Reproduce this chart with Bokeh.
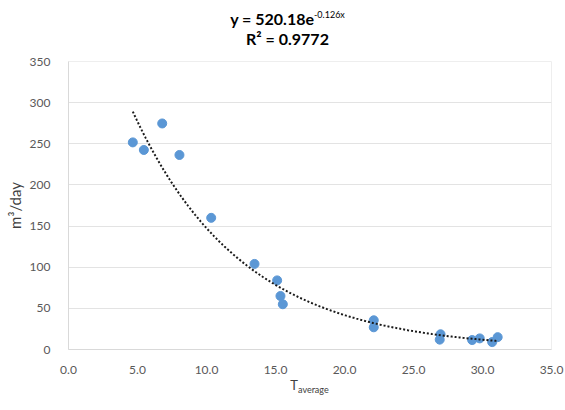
import numpy as np
from bokeh.plotting import figure
from bokeh.models import FixedTicker, NumeralTickFormatter, Range1d, Div
from bokeh.layouts import column
from bokeh.embed import file_html
from bokeh.resources import INLINE

# ---- data ----
t_average = [4.66, 5.46, 6.79, 8.04, 10.34, 13.48, 15.12, 15.36, 15.53,
             22.12, 22.12, 26.96, 26.90, 29.25, 29.80, 30.70, 31.10]
flow_m3_day = [251.7, 242.5, 274.7, 236.4, 160.0, 104.0, 84.0, 65.0, 55.0,
               35.5, 27.0, 18.5, 12.0, 11.5, 13.5, 9.0, 15.0]

fit_a = 520.18
fit_b = -0.126
fit_r2 = 0.9772

x_ticks = [0, 5, 10, 15, 20, 25, 30, 35]
y_ticks = [0, 50, 100, 150, 200, 250, 300, 350]

FONT = "Lato"

# ---- layout ----
W = 565
TITLE_H, FIG_H, XLAB_H = 52, 324, 34
L, R, T, B = 68, 14, 9, 26

title_div = Div(
    text=(f"<div style='width:{W}px;box-sizing:border-box;padding-left:10px;"
          f"text-align:center;line-height:20px;padding-top:9px'>"
          f"y = {fit_a:.2f}e<span style='font-size:9px;font-weight:normal;"
          f"vertical-align:7px;line-height:0'>{fit_b:.3f}x</span><br>"
          f"R² = {fit_r2:.4f}</div>"),
    width=W, height=TITLE_H, margin=(0, 0, 0, 0),
    styles={"font-family": FONT, "font-weight": "bold", "font-size": "16px",
            "color": "#000000", "width": f"{W}px"},
)

p = figure(width=W, height=FIG_H, output_backend="svg", toolbar_location=None,
           x_range=Range1d(0, 35), y_range=Range1d(0, 350),
           min_border_left=L, min_border_right=R, min_border_top=T, min_border_bottom=B,
           margin=(0, 0, 0, 0))
p.background_fill_color = "white"
p.border_fill_color = "white"
p.outline_line_color = "#eeeeee"

# axes
p.xaxis.ticker = FixedTicker(ticks=x_ticks)
p.yaxis.ticker = FixedTicker(ticks=y_ticks)
p.xaxis.formatter = NumeralTickFormatter(format="0.0")
for ax in (p.xaxis, p.yaxis):
    ax.major_tick_line_color = None
    ax.minor_tick_line_color = None
    ax.axis_line_color = "#d9d9d9"
    ax.major_label_text_font = FONT
    ax.major_label_text_font_size = "12px"
    ax.major_label_text_color = "#595959"
p.xaxis.major_label_standoff = 10
p.yaxis.major_label_standoff = 12
p.yaxis.axis_label = "m³/day"
p.yaxis.axis_label_text_font = FONT
p.yaxis.axis_label_text_font_size = "15px"
p.yaxis.axis_label_text_font_style = "normal"
p.yaxis.axis_label_text_color = "#404040"
p.yaxis.axis_label_standoff = 3

p.xgrid.grid_line_color = None
p.ygrid.grid_line_color = "#e3e3e3"
p.ygrid.ticker = FixedTicker(ticks=y_ticks)

# points
p.scatter(t_average, flow_m3_day, size=9, marker="circle",
          fill_color="#5b97d5", line_color="#5b97d5")

# exponential trendline from the fitted coefficients
tx = np.linspace(min(t_average), max(t_average), 200)
ty = fit_a * np.exp(fit_b * tx)
p.line(tx, ty, line_color="#1a1a1a", line_width=2, line_dash="2 2")

xlab_div = Div(
    text=(f"<div style='width:{W}px;box-sizing:border-box;padding-left:54px;"
          "text-align:center;line-height:16px;padding-top:1px'>"
          "T<span style='font-size:9px;vertical-align:-3px;line-height:0'>average</span></div>"),
    width=W, height=XLAB_H, margin=(0, 0, 0, 0),
    styles={"font-family": FONT, "font-size": "13px", "color": "#404040",
            "width": f"{W}px"},
)

layout = column(title_div, p, xlab_div, spacing=0, margin=(0, 0, 0, 0))

open("out.html", "w").write(file_html(layout, INLINE))
